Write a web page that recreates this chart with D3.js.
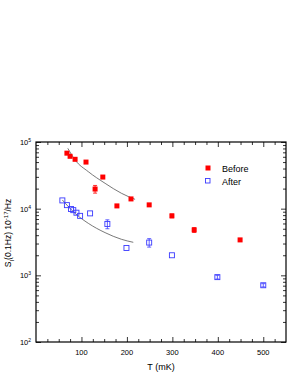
<html>
<script src='https://d3js.org/d3.v7.min.js'></script>
<style>
body { margin:0; background:#fff; }
text { font-family: "Liberation Sans", Arial, sans-serif; }
</style>
<body>
<svg width=289 height=374></svg>
<script>
// Before (filled red squares)
var beforeT = [68, 75, 86, 110, 130, 147, 178, 209, 249, 299, 348, 449];
var beforeS = [68000, 61000, 55000, 50000, 19700, 29800, 11000, 14000, 11400, 7800, 4800, 3400];
var beforeErr = [0, 0, 0, 0, 2600, 0, 0, 0, 0, 500, 400, 0];
// After (open blue squares)
var afterT = [58, 68, 77, 82, 89, 97, 119, 157, 199, 249, 299, 399, 500];
var afterS = [13300, 11300, 9900, 9500, 8700, 7800, 8500, 5900, 2570, 3100, 2000, 940, 710];
var afterErr = [0, 0, 0, 0, 0, 0, 0, 900, 0, 450, 0, 60, 40];
// fitted curves
var fitBeforeT = [70, 86, 115, 152, 188, 218];
var fitBeforeS = [80400, 53700, 35900, 24000, 17000, 13800];
var fitAfterT = [58, 86, 115, 152, 188, 214];
var fitAfterS = [13500, 8500, 6030, 4370, 3470, 3130];
var xTicks = [100, 200, 300, 400, 500];
var yTicks = [100, 1000, 10000, 100000];

var svg = d3.select("svg");
var pLeft = 36, pRight = 286, pTop = 142, pBottom = 342;
var x = d3.scaleLinear().domain([0, 550]).range([pLeft, pRight]);
var y = d3.scaleLog().domain([100, 100000]).range([pBottom, pTop]);

var minorX = d3.range(25, 550, 25).filter(function(d) { return d % 100 != 0; });
var minorY = [];
[100, 1000, 10000].forEach(function(b) { for (var k = 2; k < 10; k++) minorY.push(b * k); });

// axes with inward ticks
svg.append("g").attr("transform", "translate(0," + pBottom + ")")
	.call(d3.axisTop(x).tickValues(xTicks).tickSize(5).tickFormat(""));
svg.append("g").attr("transform", "translate(0," + pBottom + ")")
	.call(d3.axisTop(x).tickValues(minorX).tickSize(3).tickFormat(""));
svg.append("g").attr("transform", "translate(0," + pTop + ")")
	.call(d3.axisBottom(x).tickValues(xTicks).tickSize(5).tickFormat(""));
svg.append("g").attr("transform", "translate(0," + pTop + ")")
	.call(d3.axisBottom(x).tickValues(minorX).tickSize(3).tickFormat(""));
svg.append("g").attr("transform", "translate(" + pLeft + ",0)")
	.call(d3.axisRight(y).tickValues(yTicks).tickSize(5).tickFormat(""));
svg.append("g").attr("transform", "translate(" + pLeft + ",0)")
	.call(d3.axisRight(y).tickValues(minorY).tickSize(3).tickFormat(""));
svg.append("g").attr("transform", "translate(" + pRight + ",0)")
	.call(d3.axisLeft(y).tickValues(yTicks).tickSize(5).tickFormat(""));
svg.append("g").attr("transform", "translate(" + pRight + ",0)")
	.call(d3.axisLeft(y).tickValues(minorY).tickSize(3).tickFormat(""));
svg.selectAll(".domain").remove();
svg.selectAll(".tick line").attr("stroke", "#000").attr("stroke-width", 0.8);

svg.append("rect")
	.attr("x", pLeft).attr("y", pTop)
	.attr("width", pRight - pLeft).attr("height", pBottom - pTop)
	.attr("fill", "none").attr("stroke", "#000").attr("stroke-width", 1.2);

// tick labels
svg.selectAll(".xl").data(xTicks).enter().append("text")
	.attr("x", function(d) { return x(d); })
	.attr("y", pBottom + 13)
	.attr("text-anchor", "middle")
	.attr("font-size", "7.5px")
	.text(function(d) { return d; });
var yl = svg.selectAll(".yl").data(yTicks).enter().append("text")
	.attr("x", pLeft - 5)
	.attr("y", function(d) { return y(d) + 3; })
	.attr("text-anchor", "end")
	.attr("font-size", "7.5px");
yl.append("tspan").text("10");
yl.append("tspan").attr("dy", -3).attr("font-size", "5px")
	.text(function(d) { return Math.round(Math.log10(d)); });

// axis titles
svg.append("text")
	.attr("x", (pLeft + pRight) / 2).attr("y", 370)
	.attr("text-anchor", "middle").attr("font-size", "9px")
	.text("T (mK)");
var yt = svg.append("text")
	.attr("transform", "translate(11,233) rotate(-90)")
	.attr("text-anchor", "middle").attr("font-size", "8.5px");
yt.append("tspan").text("S");
yt.append("tspan").attr("dy", 2.5).attr("font-size", "6px").text("I");
yt.append("tspan").attr("dy", -2.5).text("(0.1Hz) 10");
yt.append("tspan").attr("dy", -3).attr("font-size", "6px").text("-17");
yt.append("tspan").attr("dy", 3).text("/Hz");

// fit curves
var line = d3.line()
	.x(function(d) { return x(d[0]); })
	.y(function(d) { return y(d[1]); })
	.curve(d3.curveMonotoneX);
svg.append("path")
	.attr("d", line(d3.zip(fitBeforeT, fitBeforeS)))
	.attr("fill", "none").attr("stroke", "#555").attr("stroke-width", 0.8);
svg.append("path")
	.attr("d", line(d3.zip(fitAfterT, fitAfterS)))
	.attr("fill", "none").attr("stroke", "#555").attr("stroke-width", 0.8);

// error bars + points
function drawSeries(T, S, E, color, filled) {
	var data = d3.zip(T, S, E);
	var g = svg.append("g");
	data.forEach(function(d) {
		if (d[2] > 0) {
			var cx = x(d[0]);
			g.append("line")
				.attr("x1", cx).attr("x2", cx)
				.attr("y1", y(d[1] - d[2])).attr("y2", y(d[1] + d[2]))
				.attr("stroke", color).attr("stroke-width", 0.8);
			[d[1] - d[2], d[1] + d[2]].forEach(function(v) {
				g.append("line")
					.attr("x1", cx - 2).attr("x2", cx + 2)
					.attr("y1", y(v)).attr("y2", y(v))
					.attr("stroke", color).attr("stroke-width", 0.8);
			});
		}
	});
	g.selectAll("rect").data(data).enter().append("rect")
		.attr("x", function(d) { return x(d[0]) - 2.5; })
		.attr("y", function(d) { return y(d[1]) - 2.5; })
		.attr("width", 5).attr("height", 5)
		.attr("fill", filled ? color : "none")
		.attr("stroke", color).attr("stroke-width", filled ? 0 : 0.9);
}
drawSeries(beforeT, beforeS, beforeErr, "#ff0000", true);
drawSeries(afterT, afterS, afterErr, "#3a3aff", false);

// legend
var legend = svg.append("g");
legend.append("rect").attr("x", 205.5).attr("y", 165.5).attr("width", 5).attr("height", 5)
	.attr("fill", "#ff0000");
legend.append("text").attr("x", 222).attr("y", 171.5).attr("font-size", "9px").text("Before");
legend.append("rect").attr("x", 205.5).attr("y", 178.5).attr("width", 4.5).attr("height", 4.5)
	.attr("fill", "none").attr("stroke", "#3a3aff").attr("stroke-width", 0.9);
legend.append("text").attr("x", 222).attr("y", 184.5).attr("font-size", "9px").text("After");
</script>
</body>
</html>
